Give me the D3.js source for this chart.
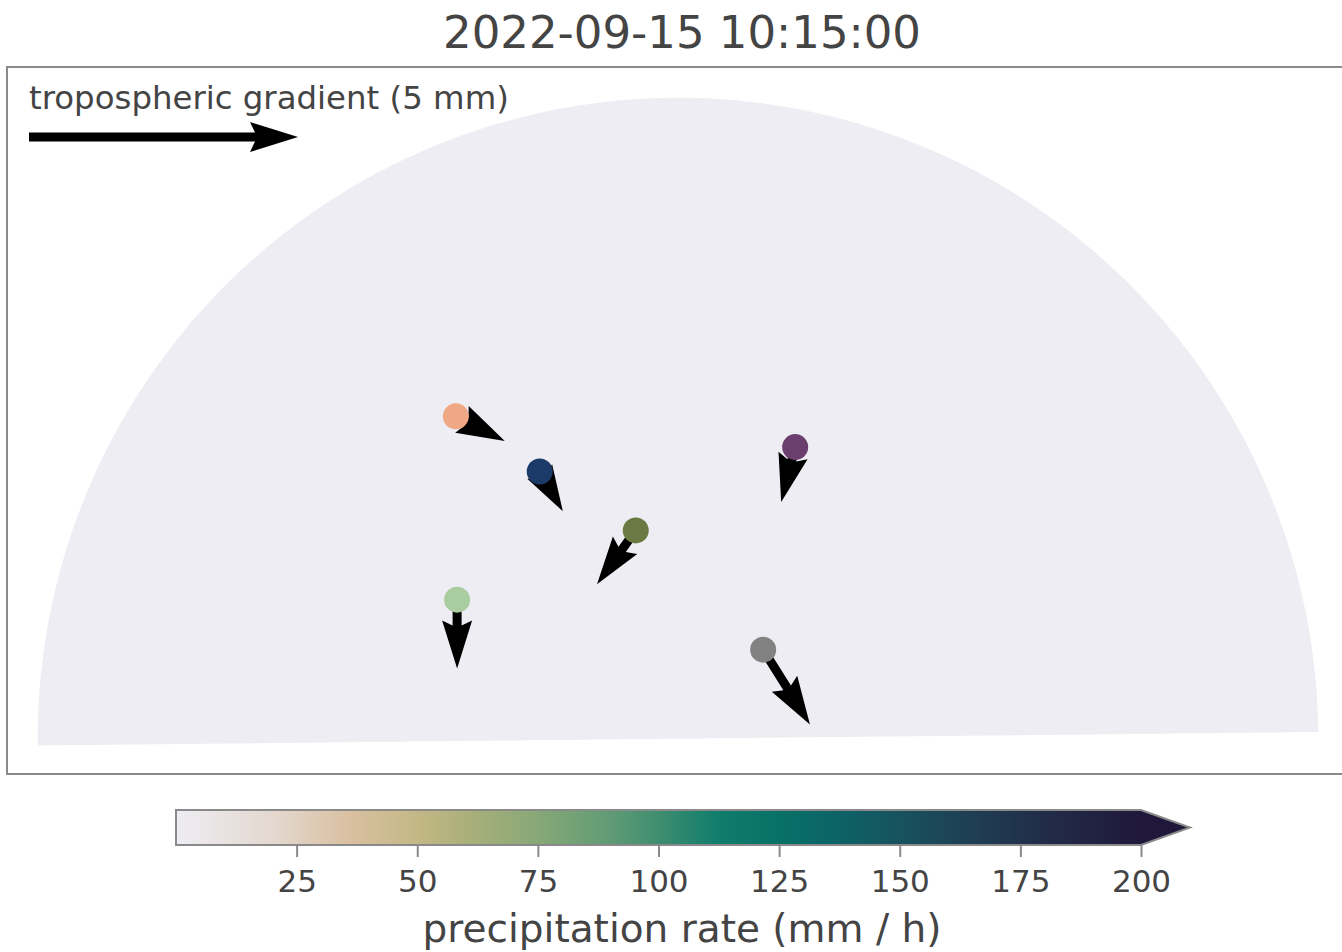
<!DOCTYPE html>
<html>
<head>
<meta charset="utf-8">
<script src="https://cdn.jsdelivr.net/npm/d3@7"></script>
<style>
  body { margin: 0; background: #fff; }
  text { font-family: "DejaVu Sans", sans-serif; fill: #444; }
</style>
</head>
<body>
<svg id="chart"></svg>
<script>
// ---- data ----
const title = "2022-09-15 10:15:00";

// station positions relative to the radar (km east, km north)
const stationX = [-34.7, -21.6, 18.3, -6.6, -34.5, 13.3];
const stationY = [50.3, 41.7, 45.5, 32.5, 21.7, 13.9];
// tropospheric gradient per station (mm east, mm north)
const gradEast = [0.91, 0.43, -0.26, -0.72, 0.0, 0.87];
const gradNorth = [-0.46, -0.74, -1.02, -1.00, -1.28, -1.39];
const stationColors = ["#f0a784", "#1c3a68", "#6a3f6d", "#6a7a42", "#a9cd9f", "#828282"];

// radar coverage (km, degrees)
const coverageRadius = 100;
const coverageStart = 0.6;
const coverageEnd = 180.6;
const coverageRain = 0;

// legend arrow
const legendGrad = 5;
const legendLabel = "tropospheric gradient (5 mm)";

// colour bar (cmocean rain)
const rainStops = [0, 0.1, 0.18, 0.25, 0.3, 0.375, 0.45, 0.5, 0.56, 0.625, 0.7, 0.75, 0.825, 0.9, 1];
const rainColors = ["#eeedf3", "#e4d8d0", "#d9c0a0", "#c4b886", "#abb07a", "#87a877", "#609b75",
                    "#3f8e70", "#117d6c", "#077167", "#0e5f66", "#17525f", "#1f3e54", "#212c48", "#20183a"];
const cbTicks = [25, 50, 75, 100, 125, 150, 175, 200];
const cbMax = 200;
const cbLabel = "precipitation rate (mm / h)";

// ---- layout ----
const width = 1342, height = 952;
const svg = d3.select("#chart").attr("width", width).attr("height", height);

const x = d3.scaleLinear().domain([-104.8, 104.8]).range([7, 1349]);
const y = d3.scaleLinear().domain([-5.5, 104.8]).range([774, 67]);
const arrowLen = d3.scaleLinear().domain([0, 5]).range([0, 269]);

const rain = d3.scaleLinear()
    .domain(rainStops.map(d => d * cbMax))
    .range(rainColors)
    .clamp(true);

svg.append("text")
    .attr("x", 682).attr("y", 48)
    .attr("text-anchor", "middle")
    .style("font-size", "45px")
    .text(title);

// coverage half disc
const coveragePts = d3.range(coverageStart, coverageEnd + 0.01, 0.5).map(a => {
    const r = a * Math.PI / 180;
    return [x(coverageRadius * Math.cos(r)), y(coverageRadius * Math.sin(r))];
});
svg.append("path")
    .attr("d", d3.line()(coveragePts) + "Z")
    .attr("fill", rain(coverageRain));

// frame
svg.append("rect")
    .attr("x", x(-104.8)).attr("y", y(104.8))
    .attr("width", x(104.8) - x(-104.8))
    .attr("height", y(-5.5) - y(104.8))
    .attr("fill", "none")
    .attr("stroke", "#8a8a8a")
    .attr("stroke-width", 2);

// quiver-like arrow polygon along +x, length L px
function quiver(L) {
    const w = 9, hl = 48, hal = 43, hw = 30;
    const s = L < hl ? L / hl : 1;
    const a = w * s / 2, b = hw * s / 2, h1 = L - hal * s, h2 = L - hl * s;
    return [[0, -a], [h1, -a], [h2, -b], [L, 0], [h2, b], [h1, a], [0, a]];
}

const stations = stationX.map((sx, i) => ({
    x: sx, y: stationY[i], e: gradEast[i], n: gradNorth[i], color: stationColors[i]
}));

svg.selectAll(".arrow")
    .data(stations)
    .enter().append("path")
    .attr("class", "arrow")
    .attr("d", d => {
        const L = arrowLen(Math.hypot(d.e, d.n));
        return d3.line()(quiver(L)) + "Z";
    })
    .attr("transform", d => {
        const ang = Math.atan2(-d.n, d.e) * 180 / Math.PI;
        return `translate(${x(d.x)},${y(d.y)}) rotate(${ang})`;
    })
    .attr("fill", "#000");

svg.selectAll(".station")
    .data(stations)
    .enter().append("circle")
    .attr("class", "station")
    .attr("cx", d => x(d.x))
    .attr("cy", d => y(d.y))
    .attr("r", 13)
    .attr("fill", d => d.color);

// legend
svg.append("text")
    .attr("x", 29).attr("y", 109)
    .style("font-size", "32.4px")
    .text(legendLabel);
svg.append("path")
    .attr("d", d3.line()(quiver(arrowLen(legendGrad))) + "Z")
    .attr("transform", "translate(29,137)")
    .attr("fill", "#000");

// colour bar
const cb = d3.scaleLinear().domain([0, cbMax]).range([176, 1141]);
const cbTop = 810, cbBottom = 845;
const grad = svg.append("defs").append("linearGradient")
    .attr("id", "rainGrad").attr("x1", "0%").attr("x2", "100%");
grad.selectAll("stop")
    .data(rainStops)
    .enter().append("stop")
    .attr("offset", d => d * 100 + "%")
    .attr("stop-color", (d, i) => rainColors[i]);

svg.append("rect")
    .attr("x", cb(0)).attr("y", cbTop)
    .attr("width", cb(cbMax) - cb(0)).attr("height", cbBottom - cbTop)
    .attr("fill", "url(#rainGrad)");
svg.append("path")
    .attr("d", `M${cb(cbMax)},${cbTop}L${cb(cbMax) + 49},${(cbTop + cbBottom) / 2}L${cb(cbMax)},${cbBottom}Z`)
    .attr("fill", rain(cbMax));
svg.append("path")
    .attr("d", `M${cb(0)},${cbTop}H${cb(cbMax)}L${cb(cbMax) + 49},${(cbTop + cbBottom) / 2}L${cb(cbMax)},${cbBottom}H${cb(0)}Z`)
    .attr("fill", "none")
    .attr("stroke", "#8a8a8a")
    .attr("stroke-width", 2);

const axis = d3.axisBottom(cb).tickValues(cbTicks).tickSize(12).tickPadding(13);
const ag = svg.append("g")
    .attr("transform", `translate(0,${cbBottom})`)
    .call(axis);
ag.select(".domain").remove();
ag.selectAll("line").attr("stroke", "#8a8a8a").attr("stroke-width", 2);
ag.selectAll("text").style("font-size", "31px").attr("fill", "#444");

svg.append("text")
    .attr("x", 682).attr("y", 942)
    .attr("text-anchor", "middle")
    .style("font-size", "39px")
    .text(cbLabel);
</script>
</body>
</html>
